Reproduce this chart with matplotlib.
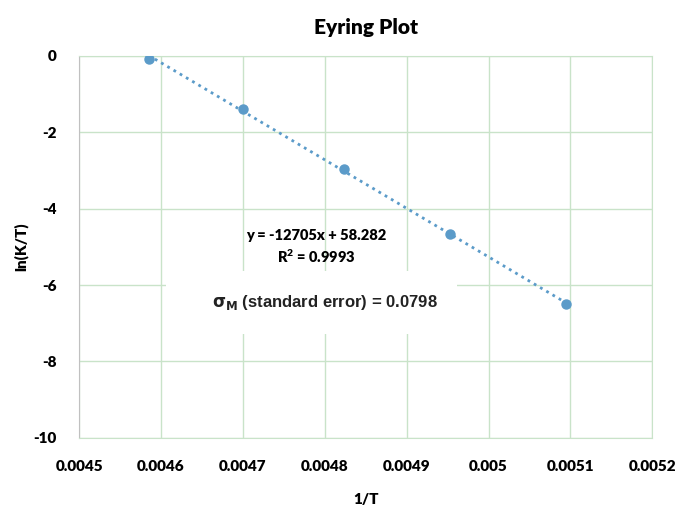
import matplotlib
matplotlib.use("Agg")
import matplotlib.pyplot as plt
import numpy as np
from matplotlib.patches import Rectangle

# values
inv_temp = [0.004585, 0.004700, 0.004823, 0.004953, 0.005094]
ln_k_over_t = [-0.07, -1.38, -2.96, -4.66, -6.50]
x_ticks = [0.0045, 0.0046, 0.0047, 0.0048, 0.0049, 0.005, 0.0051, 0.0052]
x_tick_labels = ["0.0045", "0.0046", "0.0047", "0.0048", "0.0049", "0.005", "0.0051", "0.0052"]
y_ticks = [0, -2, -4, -6, -8, -10]
fit_label = "y = -12705x + 58.282\nR$^2$ = 0.9993"

point_color = "#5b9bc9"
grid_color = "#c9e3c9"

plt.rcParams["font.family"] = ["Lato", "DejaVu Sans"]
plt.rcParams["font.weight"] = "heavy"
plt.rcParams["axes.unicode_minus"] = False
plt.rcParams["mathtext.default"] = "regular"

fig = plt.figure(figsize=(6.76, 5.08), dpi=100)
ax = fig.add_axes([0.117, 0.138, 0.848, 0.752])

# linear trendline through the points
slope, intercept = np.polyfit(inv_temp, ln_k_over_t, 1)
x_fit = np.array([inv_temp[0], inv_temp[-1]])
ax.plot(x_fit, slope * x_fit + intercept, linestyle=(0, (1, 1.6)), color=point_color,
        linewidth=2, zorder=3)
ax.plot(inv_temp, ln_k_over_t, "o", color=point_color, markersize=6.5, zorder=4)

ax.set_xlim(0.0045, 0.0052)
ax.set_ylim(-10, 0)
ax.set_xticks(x_ticks)
ax.set_xticklabels(x_tick_labels)
ax.set_yticks(y_ticks)
ax.grid(True, color=grid_color, linewidth=1)
ax.set_axisbelow(True)
ax.tick_params(length=0, pad=16, labelsize=11)
ax.tick_params(axis="y", pad=16)
for lbl in ax.get_xticklabels() + ax.get_yticklabels():
    lbl.set_fontweight("heavy")

for side in ["top", "right", "bottom"]:
    ax.spines[side].set_color(grid_color)
ax.spines["left"].set_color("#c0c0c0")

ax.set_title("Eyring Plot", fontsize=15, fontweight="heavy", pad=16)
ax.set_xlabel("1/T", fontsize=11, fontweight="heavy", labelpad=14)
ax.set_ylabel("ln(K/T)", fontsize=11, fontweight="heavy", labelpad=4)

# Excel-style trendline label
ax.text(0.00479, -5.0, fit_label, ha="center", va="center", fontsize=10.5,
        fontweight="heavy", linespacing=1.35, zorder=5)

# white box with the standard error text
ax.add_patch(Rectangle((0.0046056, -7.28), 0.0003564, 1.64, facecolor="white",
                       edgecolor="none", zorder=2))
ax.text(0.0048, -6.45, r"$\mathbf{\sigma_M}$ (standard error) = 0.0798", ha="center",
        va="center", fontsize=12, fontweight="bold", family="Liberation Sans",
        color="#222222", zorder=5)

fig.savefig("out.png", dpi=100)
